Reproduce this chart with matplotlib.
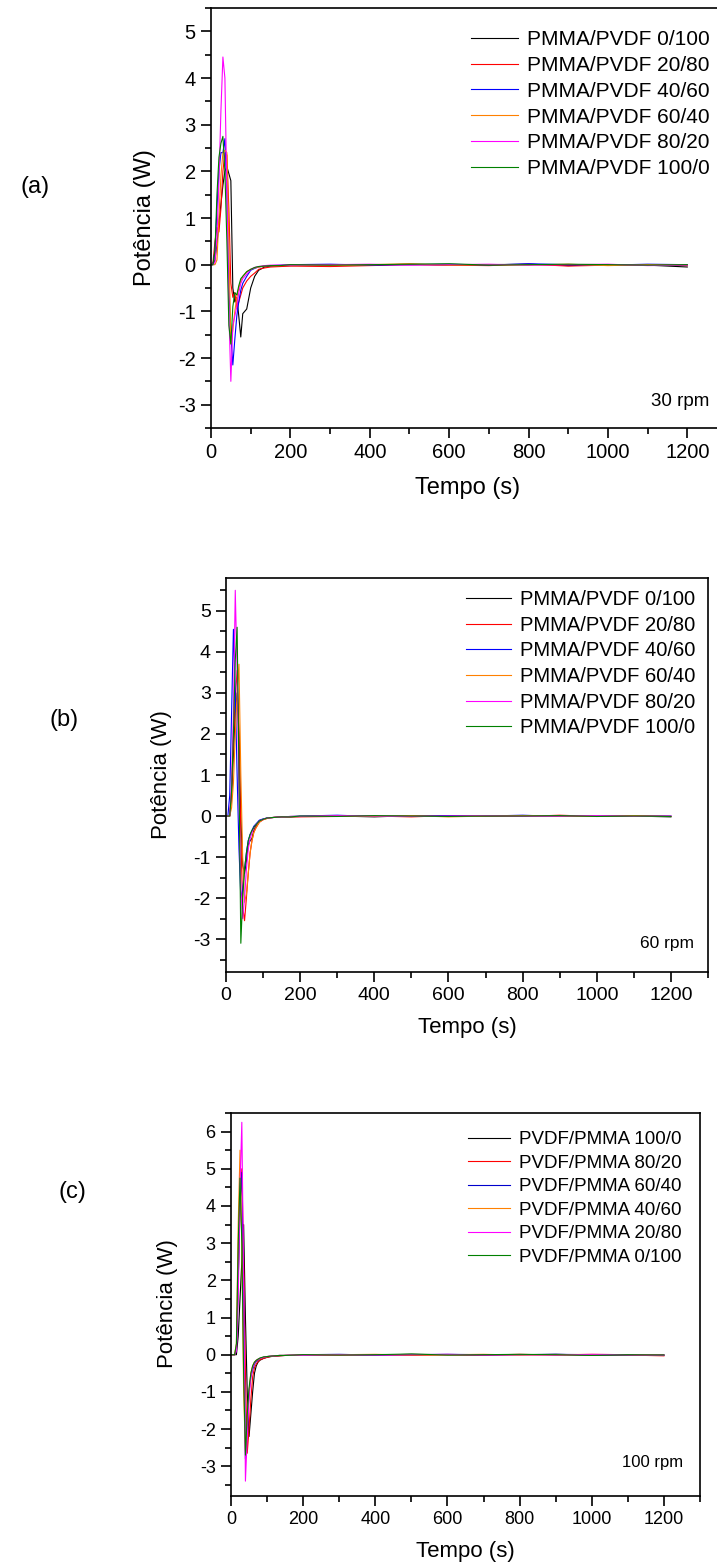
import matplotlib
matplotlib.use("Agg")
import matplotlib.pyplot as plt
from matplotlib.ticker import MultipleLocator

plt.rcParams['font.family'] = ['Liberation Sans', 'DejaVu Sans']

W, H = 717, 1566

# --- tempos (s) ---
t_start = [0, 5, 10, 15, 20, 25, 30, 35, 40, 45, 50, 55, 60, 65, 70, 75, 80,
           90, 100, 110, 120, 135, 150, 175]
t_tail = [200, 300, 400, 500, 600, 700, 800, 900, 1000, 1100, 1200]
tempo = t_start + t_tail

# --- (a) 30 rpm ---
labels_a = ['PMMA/PVDF 0/100', 'PMMA/PVDF 20/80', 'PMMA/PVDF 40/60',
            'PMMA/PVDF 60/40', 'PMMA/PVDF 80/20', 'PMMA/PVDF 100/0']
a_0_100 = [0, 0, 0.1, 0.45, 0.9, 1.3, 1.7, 2.0, 2.1, 1.95, 1.8, -0.5, -0.8, -0.7,
           -1.1, -1.55, -1.05, -0.95, -0.5, -0.25, -0.12, -0.05, -0.03, -0.02,
           -0.02, 0.0, -0.01, 0.01, -0.01, 0.0, 0.01, -0.02, 0.0, -0.01, -0.05]
a_20_80 = [0, 0.05, 0.5, 0.8, 0.7, 1.2, 2.0, 2.4, 2.35, 1.2, -0.4, -0.7, -0.6,
           -0.9, -0.8, -0.65, -0.5, -0.35, -0.25, -0.18, -0.1, -0.07, -0.05, -0.04,
           -0.03, -0.04, -0.02, 0.0, -0.01, -0.02, 0.01, -0.03, -0.01, 0.0, -0.02]
a_40_60 = [0, 0, 0.3, 1.2, 2.0, 2.4, 2.4, 2.7, 1.5, -0.5, -1.5, -2.15, -1.6, -1.1,
           -0.8, -0.55, -0.4, -0.25, -0.12, -0.08, -0.05, -0.03, -0.02, -0.01,
           0.0, 0.01, -0.01, 0.0, 0.01, -0.01, 0.02, 0.0, -0.01, 0.01, 0.0]
a_60_40 = [0, 0, 0, 0.1, 1.0, 1.9, 2.4, 2.45, 2.4, 0.5, -1.7, -1.4, -1.0, -0.7,
           -0.5, -0.35, -0.25, -0.15, -0.1, -0.07, -0.05, -0.03, -0.02, -0.02,
           -0.01, -0.02, 0.0, 0.02, -0.01, 0.0, -0.01, 0.01, -0.02, 0.0, -0.01]
a_80_20 = [0, 0, 0.05, 0.6, 1.8, 3.3, 4.45, 4.0, 1.5, -1.0, -2.5, -1.3, -1.1, -0.9,
           -0.6, -0.4, -0.3, -0.2, -0.1, -0.06, -0.04, -0.02, -0.01, -0.01,
           -0.01, 0.0, 0.01, -0.01, 0.0, 0.01, -0.01, 0.0, 0.01, -0.02, -0.01]
a_100_0 = [0, 0, 0.3, 1.5, 2.3, 2.6, 2.75, 2.0, 0.5, -1.3, -1.7, -0.9, -0.6, -0.65,
           -0.45, -0.3, -0.25, -0.15, -0.1, -0.06, -0.04, -0.03, -0.02, -0.02,
           0.0, -0.01, 0.0, 0.01, 0.02, -0.01, 0.0, 0.01, 0.0, -0.01, 0.0]

# --- (b) 60 rpm ---
labels_b = labels_a
b_0_100 = [0, 0, 0, 0.5, 1.5, 2.5, 3.0, 2.0, 0.0, -1.2, -1.4, -1.1, -0.7, -0.6,
           -0.55, -0.35, -0.25, -0.12, -0.08, -0.05, -0.04, -0.03, -0.02, -0.02,
           -0.01, 0.0, -0.02, 0.01, 0.0, -0.01, 0.01, 0.0, -0.01, 0.0, -0.02]
b_20_80 = [0, 0, 0, 0.6, 1.8, 2.9, 3.55, 2.0, -0.5, -2.2, -2.55, -2.0, -1.4, -0.9,
           -0.6, -0.4, -0.3, -0.15, -0.09, -0.06, -0.04, -0.03, -0.02, -0.02,
           -0.02, -0.01, 0.0, -0.02, 0.01, 0.0, -0.01, 0.02, -0.01, 0.0, -0.01]
b_40_60 = [0, 0, 0.5, 2.5, 4.55, 3.0, 1.0, -0.8, -2.0, -1.8, -1.3, -0.9, -0.6, -0.45,
           -0.35, -0.25, -0.2, -0.1, -0.07, -0.05, -0.04, -0.03, -0.02, -0.01,
           0.0, 0.02, -0.01, 0.0, 0.01, 0.0, 0.02, -0.01, 0.0, 0.01, 0.0]
b_60_40 = [0, 0, 0, 0.2, 0.8, 2.0, 3.0, 3.7, 1.0, -1.0, -2.1, -1.9, -1.4, -0.9,
           -0.6, -0.4, -0.3, -0.15, -0.09, -0.06, -0.04, -0.03, -0.02, -0.01,
           -0.01, 0.0, -0.01, 0.01, -0.02, 0.0, 0.01, 0.0, -0.01, 0.01, -0.01]
b_80_20 = [0, 0, 0, 0.8, 2.5, 5.5, 3.5, 0.5, -1.8, -2.5, -2.0, -1.3, -0.8, -0.55,
           -0.4, -0.3, -0.22, -0.12, -0.08, -0.05, -0.04, -0.03, -0.02, -0.01,
           -0.01, 0.01, 0.0, -0.01, 0.0, 0.01, -0.01, 0.0, 0.01, -0.01, 0.0]
b_100_0 = [0, 0, 0, 0.6, 2.0, 3.8, 4.6, 1.0, -3.1, -2.0, -1.3, -0.9, -0.6, -0.45,
           -0.35, -0.28, -0.22, -0.12, -0.08, -0.05, -0.04, -0.03, -0.02, -0.02,
           0.0, -0.01, 0.01, 0.0, -0.01, 0.0, 0.0, 0.01, -0.01, 0.0, -0.01]

# --- (c) 100 rpm ---
labels_c = ['PVDF/PMMA 100/0', 'PVDF/PMMA 80/20', 'PVDF/PMMA 60/40',
            'PVDF/PMMA 40/60', 'PVDF/PMMA 20/80', 'PVDF/PMMA 0/100']
c_100_0 = [0, 0, 0, 0, 0.5, 1.5, 2.5, 3.5, 1.0, -1.0, -2.2, -1.6, -1.0, -0.5,
           -0.3, -0.2, -0.15, -0.1, -0.07, -0.05, -0.04, -0.03, -0.02, -0.02,
           -0.01, 0.0, -0.01, 0.01, 0.0, -0.01, 0.0, 0.01, -0.01, 0.0, -0.02]
c_80_20 = [0, 0, 0, 0.1, 2.0, 4.0, 5.0, 2.5, -0.5, -2.65, -2.0, -1.2, -0.6, -0.35,
           -0.25, -0.18, -0.14, -0.1, -0.07, -0.05, -0.04, -0.03, -0.02, -0.02,
           -0.02, -0.01, 0.0, -0.02, 0.0, -0.01, 0.01, -0.01, 0.0, -0.01, -0.03]
c_60_40 = [0, 0, 0, 0.1, 2.0, 4.0, 4.9, 1.5, -2.8, -2.0, -1.0, -0.6, -0.4, -0.25,
           -0.18, -0.14, -0.1, -0.07, -0.05, -0.04, -0.03, -0.02, -0.02, -0.01,
           0.0, 0.01, -0.01, 0.0, 0.01, 0.0, 0.0, 0.01, 0.0, -0.01, 0.0]
c_40_60 = [0, 0, 0, 0.3, 3.5, 5.5, 3.0, -1.0, -2.6, -1.8, -1.0, -0.5, -0.3, -0.2,
           -0.15, -0.12, -0.1, -0.07, -0.05, -0.04, -0.03, -0.02, -0.02, -0.01,
           -0.01, 0.0, 0.01, -0.01, 0.0, 0.01, -0.01, 0.0, 0.01, 0.0, -0.01]
c_20_80 = [0, 0, 0, 0.1, 1.5, 4.5, 6.25, 2.0, -3.4, -2.2, -1.2, -0.6, -0.35, -0.22,
           -0.16, -0.12, -0.1, -0.07, -0.05, -0.04, -0.03, -0.02, -0.02, -0.01,
           -0.02, 0.0, -0.01, 0.0, 0.01, -0.01, 0.0, -0.01, 0.01, 0.0, -0.02]
c_0_100 = [0, 0, 0, 0.3, 3.0, 4.75, 3.0, -0.5, -2.7, -1.6, -0.9, -0.5, -0.3, -0.2,
           -0.15, -0.12, -0.09, -0.06, -0.05, -0.04, -0.03, -0.02, -0.02, -0.01,
           0.0, -0.01, 0.0, 0.02, -0.01, 0.0, 0.01, 0.0, -0.02, 0.0, -0.01]

cores = ['#000000', '#ff0000', '#0000ff', '#ff8000', '#ff00ff', '#008000']
cores_c = ['#000000', '#ff0000', '#0000cc', '#ff8000', '#ff00ff', '#008000']


def box(left, top, right, bottom):
    return [left / W, 1 - bottom / H, (right - left) / W, (bottom - top) / H]


def painel(fig, pos, series, labels, colors, ylim, fs_tick, fs_leg, leg_xy, rows_gap,
           rpm, rpm_xy, fs_rpm):
    ax = fig.add_axes(box(*pos))
    for y, lab, c in zip(series, labels, colors):
        ax.plot(tempo, y, color=c, lw=0.8, label=lab)
    ax.set_xlim(0, 1300)
    ax.set_ylim(*ylim)
    ax.xaxis.set_major_locator(MultipleLocator(200))
    ax.xaxis.set_minor_locator(MultipleLocator(100))
    ax.yaxis.set_major_locator(MultipleLocator(1))
    ax.yaxis.set_minor_locator(MultipleLocator(0.5))
    ax.tick_params(which='both', direction='out', width=1.2, labelsize=fs_tick,
                   top=False, right=False)
    ax.tick_params(which='major', length=7, pad=4)
    ax.tick_params(which='minor', length=4)
    for s in ax.spines.values():
        s.set_linewidth(1.2)
    ax.yaxis.set_major_formatter(plt.FuncFormatter(lambda v, p: '%d' % v))
    ax.legend(loc='upper left', bbox_to_anchor=(leg_xy[0] / W, 1 - leg_xy[1] / H),
              bbox_transform=fig.transFigure, frameon=False, fontsize=fs_leg,
              handlelength=2.25, handletextpad=0.45, labelspacing=rows_gap,
              borderpad=0, borderaxespad=0)
    fig.text(rpm_xy[0] / W, 1 - rpm_xy[1] / H, rpm, ha='right', va='center',
             fontsize=fs_rpm)
    return ax


fig = plt.figure(figsize=(W / 100, H / 100), dpi=100)

painel(fig, (211, 8, 727, 428),
       [a_0_100, a_20_80, a_40_60, a_60_40, a_80_20, a_100_0], labels_a, cores,
       (-3.5, 5.5), 14.5, 15, (471, 30), 0.33, '30 rpm', (709, 401), 13.5)
painel(fig, (226, 578, 708, 972),
       [b_0_100, b_20_80, b_40_60, b_60_40, b_80_20, b_100_0], labels_b, cores,
       (-3.8, 5.8), 14, 14.5, (466, 590), 0.33, '60 rpm', (694, 943), 12.5)
painel(fig, (231, 1113, 700, 1496),
       [c_100_0, c_80_20, c_60_40, c_40_60, c_20_80, c_0_100], labels_c, cores_c,
       (-3.8, 6.5), 13, 13.5, (468, 1131), 0.34, '100 rpm', (683, 1463), 12)

# titulos dos eixos e letras dos paineis
for x, y, s, fs in [(468, 488, 'Tempo (s)', 17), (467, 1028, 'Tempo (s)', 16),
                    (465, 1552, 'Tempo (s)', 16)]:
    fig.text(x / W, 1 - y / H, s, ha='center', va='center', fontsize=fs)
for x, y, fs in [(145, 218, 17), (162, 775, 16), (168, 1304, 16)]:
    fig.text(x / W, 1 - y / H, 'Potência (W)', ha='center', va='center',
             rotation=90, fontsize=fs)
for x, y, s in [(35, 187, '(a)'), (64, 720, '(b)'), (72, 1192, '(c)')]:
    fig.text(x / W, 1 - y / H, s, ha='center', va='center', fontsize=17)

fig.savefig('out.png', dpi=100)
